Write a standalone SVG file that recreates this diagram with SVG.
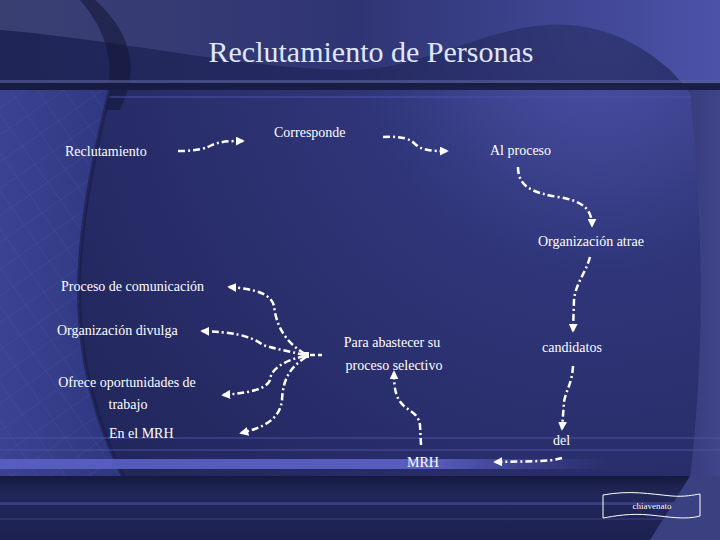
<svg xmlns="http://www.w3.org/2000/svg" width="720" height="540" viewBox="0 0 720 540">
  <defs>
    <radialGradient id="bgGrad" cx="600" cy="30" r="700" gradientUnits="userSpaceOnUse">
      <stop offset="0" stop-color="#4d53a8"/>
      <stop offset="0.35" stop-color="#2f3578"/>
      <stop offset="0.7" stop-color="#272c68"/>
      <stop offset="1" stop-color="#1f2457"/>
    </radialGradient>
    <linearGradient id="topGrad" x1="0" y1="0" x2="1" y2="0">
      <stop offset="0" stop-color="#3a3f72"/>
      <stop offset="0.5" stop-color="#2f3574"/>
      <stop offset="1" stop-color="#4c52a8"/>
    </linearGradient>
    <linearGradient id="leftGrad" x1="0" y1="0" x2="1" y2="0">
      <stop offset="0" stop-color="#3b4290"/>
      <stop offset="1" stop-color="#2f3680"/>
    </linearGradient>
    <linearGradient id="rightGrad" x1="0" y1="0" x2="1" y2="0">
      <stop offset="0" stop-color="#151a3a"/>
      <stop offset="0.3" stop-color="#343a7a"/>
      <stop offset="1" stop-color="#3f4588"/>
    </linearGradient>
    <linearGradient id="stripe" x1="0" y1="0" x2="1" y2="0">
      <stop offset="0" stop-color="#5a60c4" stop-opacity="0.9"/>
      <stop offset="0.6" stop-color="#5d62c8" stop-opacity="0.9"/>
      <stop offset="0.85" stop-color="#4a4fa8" stop-opacity="0"/>
    </linearGradient>
    <linearGradient id="bottomGrad" x1="0" y1="0" x2="0" y2="1">
      <stop offset="0" stop-color="#161a40"/>
      <stop offset="0.3" stop-color="#22275a"/>
      <stop offset="1" stop-color="#1c2150"/>
    </linearGradient>
    <pattern id="grid" width="22" height="22" patternUnits="userSpaceOnUse" patternTransform="rotate(-35)">
      <path d="M0,0 L22,0 M0,0 L0,22" stroke="#5a62a8" stroke-width="0.7" fill="none" opacity="0.5"/>
    </pattern>
    <marker id="arr" viewBox="0 0 10 10" refX="8" refY="5" markerWidth="9" markerHeight="9" markerUnits="userSpaceOnUse" orient="auto">
      <path d="M0,0 L10,5 L0,10 z" fill="#ffffff"/>
    </marker>
    <style>
      .lbl { font-family: "Liberation Serif", "DejaVu Serif", serif; font-size: 14px; fill: #ffffff; }
      .title { font-family: "Liberation Serif", "DejaVu Serif", serif; font-size: 30px; fill: #dfe8ff; }
      .small { font-family: "Liberation Serif", "DejaVu Serif", serif; font-size: 9px; fill: #ffffff; }
      .con { fill: none; stroke: #ffffff; stroke-width: 2.5; stroke-dasharray: 7 3 2 3; marker-end: url(#arr); }
    </style>
  </defs>

  <!-- background -->
  <rect x="0" y="0" width="720" height="540" fill="url(#bgGrad)"/>
  <path d="M0,0 L720,0 L720,120 C700,110 690,90 670,70 C630,35 590,22 545,25 C480,30 420,70 350,70 C250,70 120,40 0,30 Z" fill="url(#topGrad)"/>
  <path d="M0,30 C120,40 250,70 350,70 C420,70 480,30 545,25 C590,22 630,35 670,70 C690,90 700,110 720,120 L720,85 L0,85 Z" fill="#1d2350" opacity="0.55"/>
  <path d="M95,0 C140,40 135,80 120,110 L100,110 C115,80 115,40 80,0 Z" fill="#141838" opacity="0.6"/>
  <rect x="0" y="80" width="720" height="3" fill="#5a609a" opacity="0.6"/>
  <rect x="0" y="83" width="720" height="7" fill="#151a3e" opacity="0.85"/>
  <rect x="0" y="96" width="720" height="2" fill="#4c52a8" opacity="0.5"/>
  <!-- left panel -->
  <path d="M0,90 L110,90 C90,170 75,250 80,320 C85,390 105,440 125,480 L0,480 Z" fill="url(#leftGrad)"/>
  <path d="M0,90 L110,90 C90,170 75,250 80,320 C85,390 105,440 125,480 L0,480 Z" fill="url(#grid)"/>
  <path d="M110,90 C90,170 75,250 80,320 C85,390 105,440 125,480" fill="none" stroke="#171c44" stroke-width="4" opacity="0.6"/>
  <!-- right panel -->
  <path d="M690,90 C700,200 708,320 690,480 L660,540 L720,540 L720,90 Z" fill="url(#rightGrad)"/>
  <!-- stripes -->
  <rect x="0" y="437" width="720" height="2" fill="#4a50a0" opacity="0.5"/>
  <rect x="0" y="449" width="720" height="2" fill="#4a50a0" opacity="0.5"/>
  <rect x="0" y="459" width="720" height="10" fill="url(#stripe)"/>
  <rect x="0" y="476" width="720" height="64" fill="url(#bottomGrad)"/>
  <rect x="0" y="502" width="720" height="3" fill="#4a50a0" opacity="0.55"/>
  <rect x="0" y="518" width="720" height="2" fill="#3a4088" opacity="0.5"/>
  <path d="M690,476 L720,476 L720,540 L650,540 Z" fill="#3a4080"/>

  <!-- title -->
  <g id="title">
    <text class="title" x="371" y="62" text-anchor="middle">Reclutamiento de Personas</text>
  </g>

  <!-- connectors -->
  <g id="connectors">
    <path class="con" d="M178,151 C200,151 206,148 212,145 C222,141 230,141 243,141"/>
    <path class="con" d="M383,137 C403,136 410,139 415,144 C423,151 432,151 447,151"/>
    <path class="con" d="M518,167 C518,188 535,193 558,197 C584,201 592,210 592,226"/>
    <path class="con" d="M590,257 C585,275 576,282 574,300 L573,331"/>
    <path class="con" d="M573,366 C572,384 566,390 564,402 L562,429"/>
    <path class="con" d="M562,458 C548,462 530,461 495,462"/>
    <path class="con" d="M421,445 L420,425 C418,412 408,411 403,405 C396,398 394,390 394,372"/>
    <path class="con" d="M305,354 C282,340 276,322 274,306 C271,294 256,289 229,287"/>
    <path class="con" d="M305,355 C287,351 276,349 263,345 C250,335 230,332 202,331"/>
    <path class="con" d="M305,356 C286,360 271,368 270,380 C266,390 247,393 223,395"/>
    <path class="con" d="M306,357 C289,368 283,380 282,400 C280,420 262,428 241,433"/>
    <rect x="303" y="352" width="6" height="6" fill="#ffffff"/>
    <path d="M310,355 L322,355" stroke="#ffffff" stroke-width="2.5" stroke-dasharray="5 3" fill="none"/>
  </g>

  <!-- nodes -->
  <g id="n-reclutamiento"><text class="lbl" x="65" y="156">Reclutamiento</text></g>
  <g id="n-corresponde"><text class="lbl" x="274" y="137">Corresponde</text></g>
  <g id="n-alproceso"><text class="lbl" x="490" y="155">Al proceso</text></g>
  <g id="n-atrae"><text class="lbl" x="538" y="246">Organización atrae</text></g>
  <g id="n-candidatos"><text class="lbl" x="542" y="352">candidatos</text></g>
  <g id="n-del"><text class="lbl" x="553" y="445">del</text></g>
  <g id="n-mrh"><text class="lbl" x="407" y="467">MRH</text></g>
  <g id="n-abastecer">
    <text class="lbl" x="392" y="347" text-anchor="middle">Para abastecer su</text>
    <text class="lbl" x="394" y="370" text-anchor="middle">proceso selectivo</text>
  </g>
  <g id="n-comunicacion"><text class="lbl" x="61" y="291">Proceso de comunicación</text></g>
  <g id="n-divulga"><text class="lbl" x="57" y="335">Organización divulga</text></g>
  <g id="n-ofrece">
    <text class="lbl" x="127" y="387" text-anchor="middle">Ofrece oportunidades de</text>
    <text class="lbl" x="128" y="409" text-anchor="middle">trabajo</text>
  </g>
  <g id="n-enelmrh"><text class="lbl" x="109" y="438">En el MRH</text></g>

  <g id="n-chiavenato">
    <path d="M603,495 C630,490 650,494 672,496 C685,497 693,495 700,494 L700,516 C685,520 670,517 650,515 C630,513 615,516 603,518 Z" fill="none" stroke="#ffffff" stroke-width="1"/>
    <text class="small" x="652" y="509" text-anchor="middle">chiavenato</text>
  </g>
</svg>
